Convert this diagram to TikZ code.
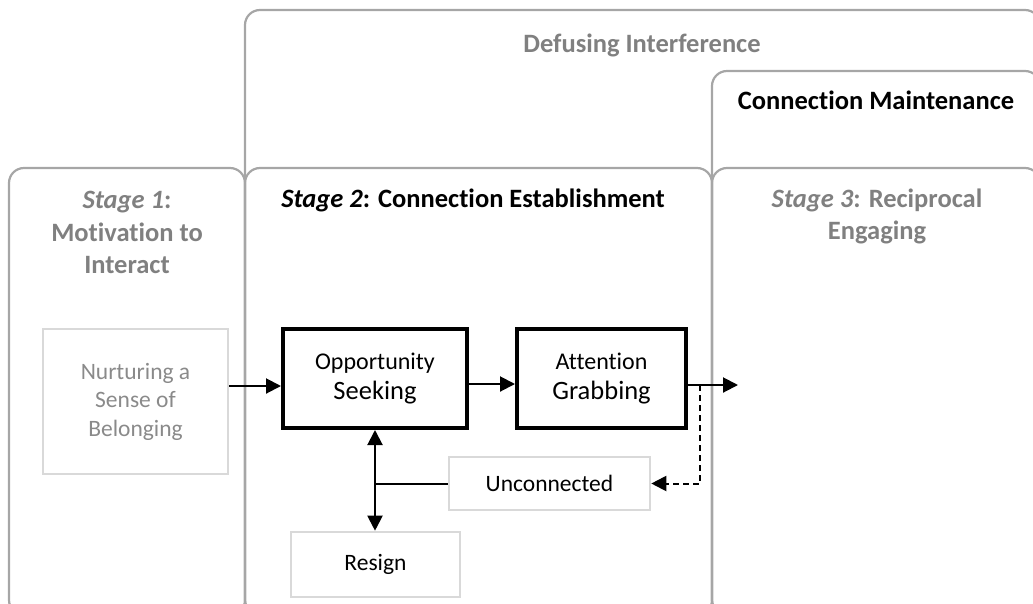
\documentclass[tikz,border=0pt]{standalone}
\usepackage{fontspec}
\setmainfont{Carlito}[Ligatures=NoCommon]
\usetikzlibrary{arrows.meta}
\definecolor{framegray}{HTML}{A6A6A6}
\definecolor{headgray}{HTML}{808080}
\definecolor{lightframe}{HTML}{D9D9D9}
\definecolor{softtext}{HTML}{8A8A8A}
\begin{document}
\begin{tikzpicture}[x=1pt,y=-1pt,
  panel/.style={draw=framegray,line width=2.2pt,rounded corners=15pt},
  heading/.style={font=\bfseries\fontsize{26.5}{32.5}\selectfont,align=center,inner sep=0pt},
  keybox/.style={draw=black,line width=4pt,align=center,inner sep=0pt,
    font=\fontsize{24}{30}\selectfont},
  softbox/.style={draw=lightframe,line width=2.6pt,align=center,inner sep=0pt,
    font=\fontsize{23.5}{28.5}\selectfont},
  tip/.tip={Triangle[length=15pt,width=15pt]},
  flow/.style={line width=2pt,-tip},
  twoway/.style={line width=2pt,tip-tip},
  plainline/.style={line width=2pt},
  dashflow/.style={line width=2pt,dash pattern=on 6pt off 4pt,-tip}
]
\useasboundingbox (0,0) rectangle (1033,603);
\clip (0,0) rectangle (1033,603);

% outer frames
\draw[panel] (245,10) rectangle (1040,615);   % defusing interference
\draw[panel] (712,71) rectangle (1040,615);   % connection maintenance
\draw[panel] (9,168) rectangle (245,615);     % stage 1
\draw[panel] (245,168) rectangle (712,615);   % stage 2
\draw[panel] (712,168) rectangle (1040,615);  % stage 3

% headings
\node[heading,text=headgray] (defusing) at (642,45) {Defusing Interference};
\node[heading] (maint) at (876,100) {Connection Maintenance};
\node[heading] (stagetwo) at (473,200) {\textit{Stage 2}: Connection Establishment};
\node[heading,text=headgray] (stageone) at (127,232.5) {\textit{Stage 1}:\\Motivation to\\Interact};
\node[heading,text=headgray] (stagethree) at (877,216.5) {\textit{Stage 3}: Reciprocal\\Engaging};

% boxes
\node[softbox,text=softtext,minimum width=185pt,minimum height=145pt] (nurture) at (135.5,401.5)
  {Nurturing a\\Sense of\\Belonging};
\node[keybox,minimum width=184pt,minimum height=99pt] (opp) at (375,378.5)
  {Opportunity\\{\fontsize{26.5}{30}\selectfont Seeking}};
\node[keybox,minimum width=169pt,minimum height=99pt] (att) at (601.5,378.5)
  {Attention\\{\fontsize{26.5}{30}\selectfont Grabbing}};
\node[softbox,minimum width=201pt,minimum height=53pt] (unc) at (549.5,483.5) {Unconnected};
\node[softbox,minimum width=169pt,minimum height=65pt] (resign) at (375.5,564.5) {Resign};

% connectors
\coordinate (intothree) at (738,385);
\coordinate (split) at (700,385);
\draw[flow] (nurture.east |- 0,386) -- (opp.west |- 0,386);
\draw[flow] (opp.east |- 0,384) -- (att.west |- 0,384);
\draw[flow] (att.east |- intothree) -- (intothree);
\draw[dashflow] (split) |- (unc.east);
\draw[twoway] (opp.south) -- (opp.south |- resign.north);
\draw[plainline] (unc.west) -- (unc.west -| opp.south);
\end{tikzpicture}
\end{document}
